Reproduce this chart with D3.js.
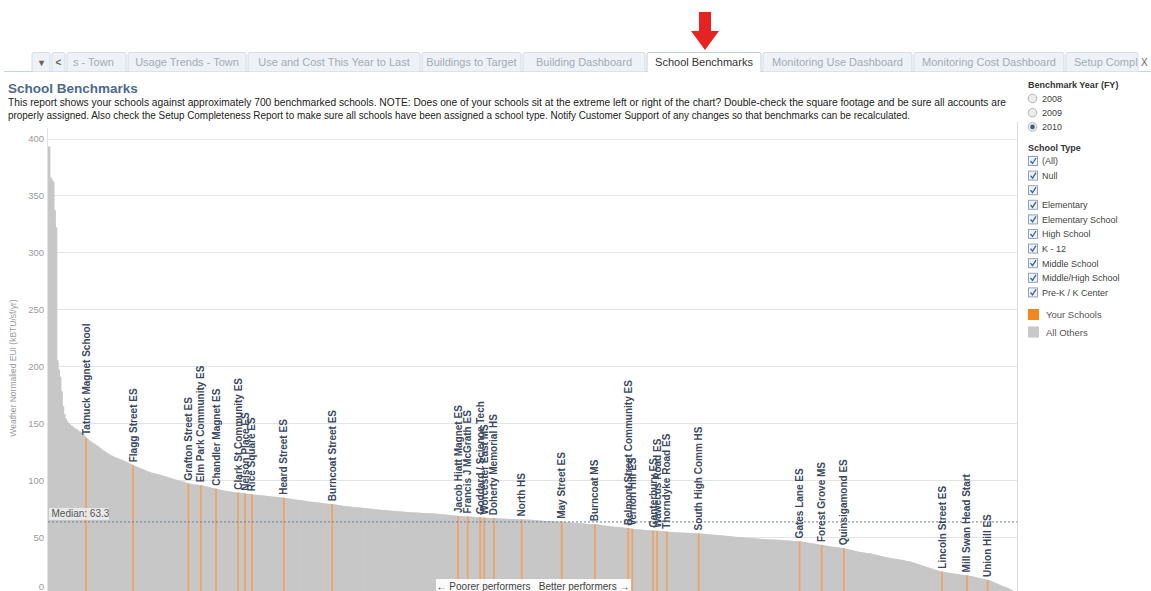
<!DOCTYPE html>
<html>
<head>
<meta charset="utf-8">
<script src="https://cdn.jsdelivr.net/npm/d3@7"></script>
<style>
  body { margin: 0; background: #fff; font-family: Arial, "Liberation Sans", sans-serif; }
  svg { display: block; }
</style>
</head>
<body>
<div id="chart"></div>
<script>
// benchmark EUI of ~700 schools, sorted high to low (kBTU/sf/yr)
const eui = [
  393, 366, 364, 362, 337, 322, 205, 197, 191, 178,
  165, 158, 154, 152, 150, 149, 148, 147, 146, 145.3,
  144.5, 143.6, 142.8, 142, 141, 140, 138.6, 137, 136, 135,
  134, 133.2, 132.4, 131.6, 130.8, 130, 129, 128, 127, 126.2,
  125.4, 124.6, 123.8, 123, 122.2, 121.6, 121, 120.4, 119.9, 119.4,
  119, 118.5, 118, 117.5, 117, 116.5, 116, 115.4, 114.8, 114.2,
  113.6, 113, 112.4, 111.9, 111.4, 110.9, 110.4, 109.9, 109.4, 108.9,
  108.4, 107.9, 107.4, 107, 106.6, 106.3, 106, 105.7, 105.4, 105,
  104.7, 104.4, 104, 103.6, 103.3, 103, 102.6, 102.2, 101.8, 101.4,
  101, 100.6, 100.2, 99.8, 99.5, 99.2, 98.9, 98.6, 98.2, 97.8,
  97.4, 97, 96.8, 96.6, 96.4, 96.2, 96.1, 96, 95.8, 95.7,
  95.5, 95.2, 94.9, 94.6, 94.3, 94, 93.7, 93.4, 93.1, 92.8,
  92.6, 92.4, 92.1, 91.8, 91.5, 91.2, 90.9, 90.7, 90.5, 90.3,
  90.1, 89.9, 89.8, 89.7, 89.5, 89.3, 89.1, 89, 88.9, 88.7,
  88.5, 88.3, 88.1, 88, 87.9, 87.8, 87.7, 87.5, 87.3, 87.2,
  87.1, 87, 86.8, 86.7, 86.6, 86.5, 86.3, 86.2, 86, 85.9,
  85.8, 85.6, 85.5, 85.4, 85.3, 85.2, 85, 84.9, 84.8, 84.6,
  84.5, 84.3, 84.1, 83.9, 83.7, 83.5, 83.3, 83.1, 82.9, 82.7,
  82.6, 82.5, 82.4, 82.2, 82, 81.8, 81.6, 81.4, 81.2, 81,
  80.9, 80.8, 80.7, 80.6, 80.5, 80.3, 80.1, 79.9, 79.7, 79.5,
  79.4, 79.3, 79.2, 79.1, 79, 78.9, 78.7, 78.5, 78.3, 78.1,
  77.9, 77.7, 77.5, 77.3, 77.2, 77.1, 77, 76.8, 76.7, 76.5,
  76.4, 76.3, 76.2, 76.1, 76, 75.9, 75.7, 75.6, 75.4, 75.3,
  75.2, 75, 74.9, 74.8, 74.6, 74.5, 74.4, 74.2, 74.1, 74,
  73.9, 73.8, 73.7, 73.6, 73.5, 73.4, 73.3, 73.2, 73.1, 73,
  72.9, 72.8, 72.7, 72.6, 72.5, 72.4, 72.3, 72.2, 72.1, 72,
  71.9, 71.8, 71.8, 71.7, 71.6, 71.5, 71.5, 71.4, 71.3, 71.2,
  71.2, 71.1, 71, 71, 70.9, 70.9, 70.8, 70.8, 70.7, 70.6,
  70.5, 70.4, 70.3, 70.1, 70, 69.9, 69.8, 69.7, 69.5, 69.4,
  69.3, 69.2, 69, 68.9, 68.8, 68.7, 68.5, 68.4, 68.3, 68.2,
  68.2, 68.1, 68.1, 68, 68, 67.9, 67.8, 67.7, 67.6, 67.5,
  67.5, 67.4, 67.3, 67.2, 67.1, 67, 67, 66.9, 66.8, 66.7,
  66.7, 66.6, 66.5, 66.5, 66.4, 66.4, 66.3, 66.2, 66.2, 66.1,
  66.1, 66, 66, 65.9, 65.9, 65.8, 65.8, 65.7, 65.7, 65.6,
  65.6, 65.6, 65.5, 65.5, 65.4, 65.4, 65.3, 65.3, 65.2, 65.1,
  65, 64.9, 64.8, 64.7, 64.6, 64.5, 64.4, 64.3, 64.2, 64.1,
  64.1, 64, 63.9, 63.9, 63.8, 63.7, 63.7, 63.6, 63.6, 63.5,
  63.5, 63.4, 63.3, 63.2, 63.1, 63, 62.9, 62.8, 62.7, 62.6,
  62.5, 62.4, 62.3, 62.2, 62.1, 62, 61.9, 61.8, 61.7, 61.6,
  61.5, 61.4, 61.4, 61.3, 61.3, 61.2, 61.1, 61, 60.8, 60.6,
  60.4, 60.2, 60, 59.8, 59.6, 59.5, 59.4, 59.3, 59.2, 59,
  58.9, 58.8, 58.7, 58.6, 58.5, 58.4, 58.3, 58.1, 58, 57.8,
  57.6, 57.4, 57.2, 57, 56.9, 56.8, 56.7, 56.6, 56.5, 56.4,
  56.3, 56.2, 56.1, 56, 55.9, 55.9, 55.8, 55.7, 55.6, 55.6,
  55.5, 55.4, 55.3, 55.2, 55.1, 55, 54.9, 54.7, 54.6, 54.5,
  54.4, 54.3, 54.2, 54.2, 54.1, 54, 54, 53.9, 53.9, 53.8,
  53.8, 53.7, 53.7, 53.6, 53.6, 53.5, 53.5, 53.4, 53.3, 53.2,
  53.2, 53.1, 53, 52.9, 52.8, 52.6, 52.5, 52.4, 52.3, 52.2,
  52.1, 52, 51.9, 51.8, 51.7, 51.6, 51.5, 51.4, 51.2, 51.1,
  51, 50.9, 50.8, 50.6, 50.5, 50.3, 50.2, 50.1, 50, 49.9,
  49.8, 49.7, 49.6, 49.5, 49.4, 49.3, 49.2, 49.1, 49, 48.9,
  48.8, 48.7, 48.7, 48.6, 48.5, 48.4, 48.3, 48.2, 48.1, 48,
  48, 47.9, 47.9, 47.8, 47.8, 47.7, 47.6, 47.6, 47.5, 47.4,
  47.3, 47.2, 47.1, 47.1, 47, 46.9, 46.8, 46.7, 46.6, 46.5,
  46.4, 46.4, 46.3, 46.2, 46, 45.8, 45.6, 45.4, 45.2, 45,
  44.8, 44.6, 44.4, 44.2, 44, 43.8, 43.6, 43.4, 43.2, 43,
  42.8, 42.6, 42.4, 42.2, 42, 41.8, 41.6, 41.4, 41.2, 41,
  40.9, 40.8, 40.6, 40.4, 40.2, 40.1, 39.9, 39.6, 39.3, 39,
  38.7, 38.4, 38.1, 37.8, 37.5, 37.2, 37, 36.8, 36.6, 36.4,
  36.2, 36, 35.9, 35.8, 35.7, 35.3, 35, 34.7, 34.4, 34.1,
  33.8, 33.5, 33.2, 32.9, 32.6, 32.3, 32.1, 31.9, 31.7, 31.5,
  31.3, 31.1, 30.9, 30.7, 30.5, 30.3, 30.1, 29.9, 29.6, 29.3,
  29, 28.8, 28.6, 28.4, 28, 27.6, 27.2, 26.8, 26.4, 26,
  25.6, 25.2, 24.8, 24.4, 24, 23.6, 23.2, 22.8, 22.4, 22,
  21.6, 21.2, 20.8, 20.4, 20, 19.8, 19.6, 19.4, 19.2, 19,
  18.8, 18.6, 18.4, 18.2, 18, 17.8, 17.6, 17.4, 17.2, 17,
  16.9, 16.8, 16.7, 16.5, 16.3, 16.1, 15.9, 15.7, 15.4, 15.1,
  14.8, 14.5, 14.2, 13.9, 13.6, 13.3, 13, 12.8, 12.6, 12.3,
  11.9, 11.4, 10.9, 10.4, 9.9, 9.4, 8.9, 8.3, 7.7, 7.1,
  6.6, 6.4, 5.9, 5.3, 4.7, 4.1, 3.5, 2.8, 2.1, 1.3
];

// your schools and their rank in the sorted list above
const yourSchools = [
  'Tatnuck Magnet School', 'Flagg Street ES', 'Grafton Street ES', 'Elm Park Community ES',
  'Chandler Magnet ES', 'Clark St Community ES', 'Nelson Place ES', 'Rice Square ES',
  'Heard Street ES', 'Burncoat Street ES', 'Jacob Hiatt Magnet ES', 'Francis J McGrath ES',
  'Goddard / Science Tech', 'Worcester East MS', 'Doherty Memorial HS', 'North HS',
  'May Street ES', 'Burncoat MS', 'Belmont Street Community ES', 'Vernon Hill ES',
  'Canterbury ES', 'Wawecus Road ES', 'Thorndyke Road ES', 'South High Comm HS',
  'Gates Lane ES', 'Forest Grove MS', 'Quinsigamond ES', 'Lincoln Street ES',
  'Mill Swan Head Start', 'Union Hill ES'
];
const yourRanks = [
  27, 61, 101, 110, 121, 137, 142, 147, 170, 205,
  296, 303, 312, 315, 322, 342, 371, 395, 419, 422,
  437, 440, 447, 470, 543, 559, 575, 646, 664, 679
];

const yTicks = [0, 50, 100, 150, 200, 250, 300, 350, 400];
const medianEui = 63.3;

const years = ['2008', '2009', '2010'];
const selectedYear = '2010';
const schoolTypes = ['(All)', 'Null', '', 'Elementary', 'Elementary School', 'High School',
  'K - 12', 'Middle School', 'Middle/High School', 'Pre-K / K Center'];
const legendLabels = ['Your Schools', 'All Others'];

const tabLabels = ['\u25BE', '<', 's - Town', 'Usage Trends - Town', 'Use and Cost This Year to Last',
  'Buildings to Target', 'Building Dashboard', 'School Benchmarks', 'Monitoring Use Dashboard',
  'Monitoring Cost Dashboard', 'Setup Compl'];
const activeTab = 'School Benchmarks';
// tab edges (layout only)
const tabEdges = [31, 51, 66, 127, 247, 421, 522, 646, 762, 913, 1065, 1139];

const W = 1151, H = 591;
const plot = { left: 48, right: 1017, top: 128 };

const svg = d3.select('#chart').append('svg')
  .attr('width', W).attr('height', H)
  .style('font-family', 'Arial, "Liberation Sans", sans-serif');

// ---- tab bar
const tabsG = svg.append('g');
tabsG.append('line')
  .attr('x1', 4).attr('x2', W).attr('y1', 71.5).attr('y2', 71.5)
  .attr('stroke', '#c9d3de');
tabLabels.forEach((t, i) => {
  const x0 = tabEdges[i] + 1, x1 = tabEdges[i + 1] - 1;
  const active = t === activeTab;
  tabsG.append('path')
    .attr('d', `M${x0},${active ? 72 : 71.5}V54.5Q${x0},52.5 ${x0 + 2},52.5H${x1 - 2}Q${x1},52.5 ${x1},54.5V${active ? 72 : 71.5}`)
    .attr('fill', active ? '#fff' : '#eef2f7')
    .attr('stroke', active ? '#c3cdd9' : '#d3dbe5');
  tabsG.append('text')
    .attr('x', i === 2 ? x0 + 6 : (i === tabLabels.length - 1 ? x0 + 8 : (x0 + x1) / 2))
    .attr('y', 66)
    .attr('text-anchor', (i === 2 || i === tabLabels.length - 1) ? 'start' : 'middle')
    .attr('font-size', i < 2 ? 10 : 11)
    .attr('font-weight', i < 2 ? 'bold' : 'normal')
    .attr('fill', active ? '#333' : (i < 2 ? '#666' : '#a3abb6'))
    .text(t);
});
tabsG.append('text').attr('x', 1141).attr('y', 66).attr('font-size', 10)
  .attr('fill', '#666').text('X');

// red arrow pointing at the active tab
svg.append('path')
  .attr('d', 'M699,12H711V31H719L705,50L691,31H699Z')
  .attr('fill', '#e52421');

// ---- title + notes
svg.append('text').attr('x', 8).attr('y', 93)
  .attr('font-size', 13.5).attr('font-weight', 'bold').attr('fill', '#4c6a8a')
  .text('School Benchmarks');
const notes = [
  'This report shows your schools against approximately 700 benchmarked schools. NOTE: Does one of your schools sit at the extreme left or right of the chart? Double-check the square footage and be sure all accounts are',
  'properly assigned. Also check the Setup Completeness Report to make sure all schools have been assigned a school type. Notify Customer Support of any changes so that benchmarks can be recalculated.'
];
const noteLen = [998, 902];
notes.forEach((n, i) => {
  svg.append('text').attr('x', 8).attr('y', 106 + i * 13)
    .attr('font-size', 10).attr('fill', '#222')
    .attr('textLength', noteLen[i]).attr('lengthAdjust', 'spacingAndGlyphs')
    .text(n);
});

// ---- scales
const x = d3.scaleBand()
  .domain(d3.range(eui.length))
  .range([plot.left, plot.right - 1])
  .padding(0);
const y = d3.scaleLinear().domain([0, 400]).range([594, 138.5]);

// gridlines
svg.append('g').selectAll('line')
  .data(yTicks.filter(d => d > 0))
  .join('line')
  .attr('x1', plot.left).attr('x2', plot.right)
  .attr('y1', d => Math.round(y(d)) + 0.5).attr('y2', d => Math.round(y(d)) + 0.5)
  .attr('stroke', '#e3e3e3');

// borders
svg.append('line').attr('x1', plot.left - 0.5).attr('x2', plot.left - 0.5)
  .attr('y1', plot.top).attr('y2', H).attr('stroke', '#e2e2e2');
svg.append('line').attr('x1', plot.right + 0.5).attr('x2', plot.right + 0.5)
  .attr('y1', 122).attr('y2', H).attr('stroke', '#dcdcdc');

// all schools (overlap by 1px so no hairline gaps show)
svg.append('g').selectAll('rect')
  .data(eui)
  .join('rect')
  .attr('x', (d, i) => x(i))
  .attr('width', x.bandwidth() + 1)
  .attr('y', d => y(d))
  .attr('height', d => y(0) - y(d))
  .attr('fill', '#c7c7c7');

// your schools
const mine = yourSchools.map((name, i) => ({ name, rank: yourRanks[i], value: eui[yourRanks[i]] }));
svg.append('g').selectAll('rect')
  .data(mine)
  .join('rect')
  .attr('x', d => x(d.rank) + x.bandwidth() / 2 - 0.9)
  .attr('width', 1.8)
  .attr('y', d => y(d.value))
  .attr('height', d => y(0) - y(d.value))
  .attr('fill', '#eca468');

// median reference line
svg.append('line')
  .attr('x1', plot.left).attr('x2', plot.right)
  .attr('y1', y(medianEui)).attr('y2', y(medianEui))
  .attr('stroke', '#6a7d96').attr('stroke-dasharray', '2,2');
svg.append('rect')
  .attr('x', plot.left + 1).attr('y', y(medianEui) - 14)
  .attr('width', 60).attr('height', 12)
  .attr('fill', '#fff').attr('fill-opacity', 0.6);
svg.append('text')
  .attr('x', plot.left + 3.5).attr('y', y(medianEui) - 4.5)
  .attr('font-size', 10).attr('fill', '#555')
  .text('Median: ' + medianEui);

// school labels
svg.append('g').selectAll('text')
  .data(mine)
  .join('text')
  .attr('transform', d => `translate(${x(d.rank) + x.bandwidth() / 2},${y(d.value) - 3}) rotate(-90)`)
  .attr('dominant-baseline', 'central')
  .attr('font-size', 10).attr('font-weight', 'bold').attr('fill', '#3a4860')
  .text(d => d.name);

// y axis
const yAxis = svg.append('g')
  .attr('transform', `translate(${plot.left},0)`)
  .call(d3.axisLeft(y).tickValues(yTicks).tickSize(0).tickPadding(4));
yAxis.select('.domain').remove();
yAxis.selectAll('text')
  .attr('font-size', 9.5).attr('fill', '#9a9a9a')
  .attr('font-family', 'Arial, "Liberation Sans", sans-serif')
  .attr('dy', d => d === 0 ? '-0.45em' : '0.32em');
svg.append('text')
  .attr('transform', 'translate(16,368) rotate(-90)')
  .attr('text-anchor', 'middle').attr('font-size', 8.5).attr('fill', '#999')
  .text('Weather Normalied EUI (kBTU/sf/yr)');

// direction note
svg.append('rect').attr('x', 436).attr('y', 579).attr('width', 195).attr('height', 14)
  .attr('fill', '#fff').attr('fill-opacity', 0.9);
svg.append('text').attr('x', 533).attr('y', 590)
  .attr('text-anchor', 'middle').attr('font-size', 10).attr('fill', '#444')
  .style('white-space', 'pre')
  .text('\u2190 Poorer performers   Better performers \u2192');

// ---- filter panel
const panel = svg.append('g').attr('font-size', 9).attr('fill', '#333');
panel.append('text').attr('x', 1028).attr('y', 88).attr('font-weight', 'bold')
  .text('Benchmark Year (FY)');
years.forEach((yr, i) => {
  const cy = 98.5 + i * 14.2;
  panel.append('circle').attr('cx', 1032.5).attr('cy', cy).attr('r', 4.3)
    .attr('fill', '#ececec').attr('stroke', '#b5b5b5');
  if (yr === selectedYear) {
    panel.append('circle').attr('cx', 1032.5).attr('cy', cy).attr('r', 2.3).attr('fill', '#3b5f86');
  }
  panel.append('text').attr('x', 1042).attr('y', cy + 3.3).attr('fill', '#444').text(yr);
});
panel.append('text').attr('x', 1028).attr('y', 151).attr('font-weight', 'bold').text('School Type');
schoolTypes.forEach((t, i) => {
  const cy = 161 + i * 14.6;
  panel.append('rect').attr('x', 1028.5).attr('y', cy - 4.5).attr('width', 9).attr('height', 9)
    .attr('fill', '#eef3fa').attr('stroke', '#8fa3bf');
  panel.append('path')
    .attr('d', `M1030.5,${cy}L1032.5,${cy + 2.5}L1036,${cy - 3}`)
    .attr('fill', 'none').attr('stroke', '#3d5e99').attr('stroke-width', 1.3);
  panel.append('text').attr('x', 1042).attr('y', cy + 3.3).attr('fill', '#444').text(t);
});
const legendColors = ['#f5861f', '#c8c8c8'];
legendLabels.forEach((l, i) => {
  const y0 = 309 + i * 17.5;
  panel.append('rect').attr('x', 1028).attr('y', y0).attr('width', 11).attr('height', 11)
    .attr('fill', legendColors[i]);
  panel.append('text').attr('x', 1046).attr('y', y0 + 9).attr('font-size', 9.5)
    .attr('fill', '#555').text(l);
});
</script>
</body>
</html>
